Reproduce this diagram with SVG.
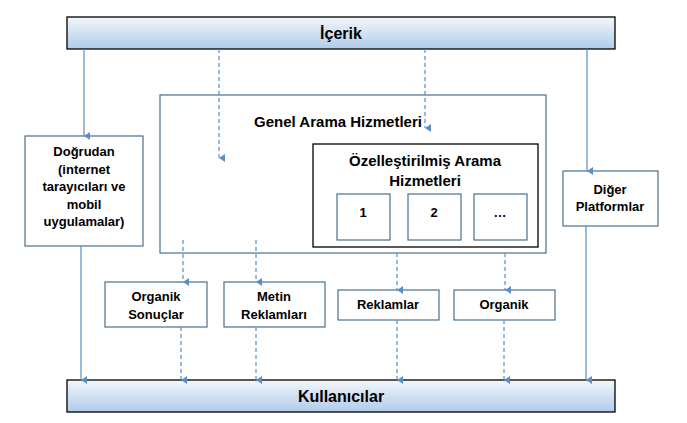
<svg xmlns="http://www.w3.org/2000/svg" width="687" height="423" viewBox="0 0 687 423">
<style>
text{font-family:"Liberation Sans",Arial,sans-serif;font-weight:bold;fill:#000;text-anchor:middle}
.bar{stroke:#000;stroke-width:1.3;fill:url(#g)}
.box{fill:#fff;stroke:#4a6f8f;stroke-width:1.2}
.blk{fill:#fff;stroke:#000;stroke-width:1.3}
.s{stroke:#5b8ec4;stroke-width:1.2;fill:none;marker-end:url(#a)}
.d{stroke:#5b8ec4;stroke-width:1.2;fill:none;stroke-dasharray:4 3;marker-end:url(#a)}
.t16{font-size:16px}.t13{font-size:13px}
</style>
<defs>
<linearGradient id="g" x1="0" y1="0" x2="0" y2="1"><stop offset="0" stop-color="#f4f7fb"/><stop offset="1" stop-color="#afcbea"/></linearGradient>
<marker id="a" markerWidth="8" markerHeight="8" refX="4" refY="6" orient="auto-start-reverse" markerUnits="userSpaceOnUse" viewBox="0 0 8 8"><path d="M0,0 L8,0 L4,6 Z" fill="#5b8ec4" transform="translate(0,0)"/></marker>
</defs>
<rect width="687" height="423" fill="#fff"/>
<g id="icerik"><rect class="bar" x="67" y="17" width="548" height="32"/><text class="t16" x="341" y="39">İçerik</text></g>
<g id="kullanicilar"><rect class="bar" x="67" y="380" width="548" height="32"/><text class="t16" x="341" y="402">Kullanıcılar</text></g>
<g id="genel"><rect class="box" x="160" y="95" width="386" height="158"/><text class="t16" x="338" y="127" style="font-size:15px">Genel Arama Hizmetleri</text></g>
<g id="ozel"><rect class="blk" x="313" y="144" width="225" height="103"/><text class="t16" x="425" y="166" style="font-size:15px">Özelleştirilmiş Arama</text><text class="t16" x="425" y="186" style="font-size:15px">Hizmetleri</text></g>
<g id="n1"><rect class="box" x="337" y="194" width="53" height="46"/><text class="t13" x="363" y="217">1</text></g>
<g id="n2"><rect class="box" x="408" y="194" width="53" height="46"/><text class="t13" x="434" y="217">2</text></g>
<g id="n3"><rect class="box" x="474" y="194" width="53" height="46"/><text class="t13" x="500" y="217">…</text></g>
<g id="dogrudan"><rect class="box" x="25" y="136" width="118" height="110"/>
<text class="t13" x="84" y="156">Doğrudan</text><text class="t13" x="84" y="174">(internet</text><text class="t13" x="84" y="191">tarayıcıları ve</text><text class="t13" x="84" y="209">mobil</text><text class="t13" x="84" y="226">uygulamalar)</text></g>
<g id="diger"><rect class="box" x="563" y="171" width="95" height="55"/><text class="t13" x="610" y="194">Diğer</text><text class="t13" x="610" y="211">Platformlar</text></g>
<g id="orgsonuc"><rect class="box" x="105" y="282" width="102" height="45"/><text class="t13" x="156" y="301">Organik</text><text class="t13" x="156" y="319">Sonuçlar</text></g>
<g id="metin"><rect class="box" x="224" y="282" width="101" height="45"/><text class="t13" x="274" y="301">Metin</text><text class="t13" x="274" y="319">Reklamları</text></g>
<g id="reklamlar"><rect class="box" x="338" y="290" width="101" height="30"/><text class="t13" x="388" y="309">Reklamlar</text></g>
<g id="organik"><rect class="box" x="454" y="290" width="101" height="30"/><text class="t13" x="504" y="309">Organik</text></g>
<g id="connectors">
<line class="s" x1="84" y1="49" x2="84" y2="136"/>
<line class="d" x1="219" y1="49" x2="219" y2="158"/>
<line class="d" x1="425" y1="49" x2="425" y2="128"/>
<line class="s" x1="587" y1="49" x2="587" y2="171"/>
<line class="s" x1="81" y1="246" x2="81" y2="380"/>
<line class="d" x1="183" y1="240" x2="183" y2="282"/>
<line class="d" x1="256" y1="240" x2="256" y2="282"/>
<line class="d" x1="397" y1="253" x2="397" y2="290"/>
<line class="d" x1="505" y1="253" x2="505" y2="290"/>
<line class="d" x1="181" y1="327" x2="181" y2="380"/>
<line class="d" x1="256" y1="327" x2="256" y2="380"/>
<line class="d" x1="397" y1="320" x2="397" y2="380"/>
<line class="d" x1="504" y1="320" x2="504" y2="380"/>
<line class="s" x1="586" y1="226" x2="586" y2="380"/>
</g>
</svg>
